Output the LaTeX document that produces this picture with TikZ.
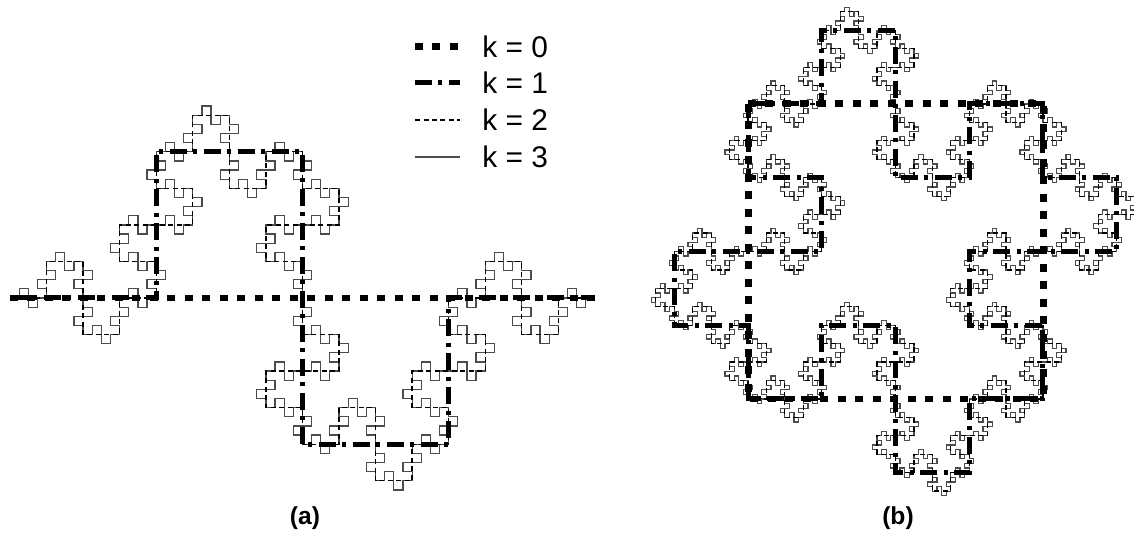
\documentclass[tikz,border=0pt]{standalone}
\usepackage{fontspec}
\setmainfont{Liberation Sans}
\usetikzlibrary{lindenmayersystems}

\pgfdeclarelindenmayersystem{minkowski}{
  \rule{F -> F+F-F-FF+F+F-F}
}

\begin{document}
\begin{tikzpicture}[x=0.02cm,y=0.02cm,
  levelzero/.style={line width=0.14cm,dash pattern=on 0.16cm off 0.19cm},
  levelone/.style={line width=0.1cm,dash pattern=on 0.34cm off 0.12cm on 0.08cm off 0.14cm},
  leveltwo/.style={line width=0.7pt,dash pattern=on 0.1cm off 0.07cm},
  levelthree/.style={line width=0.7pt,black!70},
  every node/.style={inner sep=0pt,font=\fontsize{17}{20}\selectfont}]
\useasboundingbox (0,0) rectangle (1134,535);
% (a) curve
\begin{scope}[shift={(10,237)}]
\draw[levelthree,lindenmayer system={minkowski,axiom=F,order=3,angle=90,step=0.1828125cm}] lindenmayer system;
\draw[leveltwo,lindenmayer system={minkowski,axiom=F,order=2,angle=90,step=0.73125cm}] lindenmayer system;
\draw[levelone,lindenmayer system={minkowski,axiom=F,order=1,angle=90,step=2.925cm}] lindenmayer system;
\end{scope}
\draw[levelzero] (10,237) -- (595,237);
% (b) island
\begin{scope}[shift={(748,431)}]
\draw[levelthree,lindenmayer system={minkowski,axiom=F-F-F-F,order=3,angle=90,step=0.0921875cm}] lindenmayer system;
\draw[leveltwo,lindenmayer system={minkowski,axiom=F-F-F-F,order=2,angle=90,step=0.36875cm}] lindenmayer system;
\draw[levelone,lindenmayer system={minkowski,axiom=F-F-F-F,order=1,angle=90,step=1.475cm}] lindenmayer system;
\end{scope}
\draw[levelzero] (748,431) rectangle (1043,136);
% legend
\draw[levelzero] (415,488) -- (460,488);
\node[anchor=west] (kzero) at (482,488) {k = 0};
\draw[levelone] (415,452) -- (460,452);
\node[anchor=west] (kone) at (482,452) {k = 1};
\draw[leveltwo] (415,415) -- (460,415);
\node[anchor=west] (ktwo) at (482,415) {k = 2};
\draw[levelthree] (415,378) -- (460,378);
\node[anchor=west] (kthree) at (482,378) {k = 3};
% captions
\node[font=\fontsize{14}{17}\selectfont\bfseries] (capa) at (305,17) {(a)};
\node[font=\fontsize{14}{17}\selectfont\bfseries] (capb) at (898,17) {(b)};
\end{tikzpicture}
\end{document}
